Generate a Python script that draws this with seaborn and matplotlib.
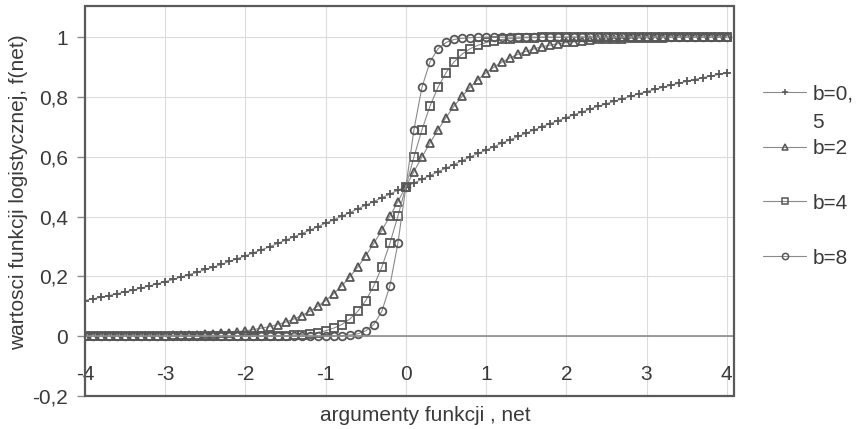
import matplotlib
matplotlib.use("Agg")
import matplotlib.pyplot as plt
import seaborn as sns
from matplotlib.patches import Rectangle
from matplotlib.ticker import FuncFormatter, MultipleLocator
from matplotlib.transforms import IdentityTransform

# argument values (net)
net = [
    -4.0, -3.9, -3.8, -3.7, -3.6, -3.5, -3.4, -3.3, -3.2, -3.1,
    -3.0, -2.9, -2.8, -2.7, -2.6, -2.5, -2.4, -2.3, -2.2, -2.1,
    -2.0, -1.9, -1.8, -1.7, -1.6, -1.5, -1.4, -1.3, -1.2, -1.1,
    -1.0, -0.9, -0.8, -0.7, -0.6, -0.5, -0.4, -0.3, -0.2, -0.1,
    0.0,
    0.1, 0.2, 0.3, 0.4, 0.5, 0.6, 0.7, 0.8, 0.9, 1.0,
    1.1, 1.2, 1.3, 1.4, 1.5, 1.6, 1.7, 1.8, 1.9, 2.0,
    2.1, 2.2, 2.3, 2.4, 2.5, 2.6, 2.7, 2.8, 2.9, 3.0,
    3.1, 3.2, 3.3, 3.4, 3.5, 3.6, 3.7, 3.8, 3.9, 4.0,
]

f_b05 = [
    0.119, 0.125, 0.130, 0.136, 0.142, 0.148, 0.154, 0.161, 0.168, 0.175,
    0.182, 0.190, 0.198, 0.206, 0.214, 0.223, 0.231, 0.240, 0.250, 0.259,
    0.269, 0.279, 0.289, 0.299, 0.310, 0.321, 0.332, 0.343, 0.354, 0.366,
    0.378, 0.389, 0.401, 0.413, 0.426, 0.438, 0.450, 0.463, 0.475, 0.488,
    0.500,
    0.512, 0.525, 0.537, 0.550, 0.562, 0.574, 0.587, 0.599, 0.611, 0.622,
    0.634, 0.646, 0.657, 0.668, 0.679, 0.690, 0.701, 0.711, 0.721, 0.731,
    0.741, 0.750, 0.760, 0.769, 0.777, 0.786, 0.794, 0.802, 0.810, 0.818,
    0.825, 0.832, 0.839, 0.846, 0.852, 0.858, 0.864, 0.870, 0.875, 0.881,
]

f_b2 = [
    0.000, 0.000, 0.001, 0.001, 0.001, 0.001, 0.001, 0.001, 0.002, 0.002,
    0.002, 0.003, 0.004, 0.004, 0.005, 0.007, 0.008, 0.010, 0.012, 0.015,
    0.018, 0.022, 0.027, 0.032, 0.039, 0.047, 0.057, 0.069, 0.083, 0.100,
    0.119, 0.142, 0.168, 0.198, 0.231, 0.269, 0.310, 0.354, 0.401, 0.450,
    0.500,
    0.550, 0.599, 0.646, 0.690, 0.731, 0.769, 0.802, 0.832, 0.858, 0.881,
    0.900, 0.917, 0.931, 0.943, 0.953, 0.961, 0.968, 0.973, 0.978, 0.982,
    0.985, 0.988, 0.990, 0.992, 0.993, 0.995, 0.995, 0.996, 0.997, 0.998,
    0.998, 0.998, 0.999, 0.999, 0.999, 0.999, 0.999, 1.000, 1.000, 1.000,
]

f_b4 = [
    0.000, 0.000, 0.000, 0.000, 0.000, 0.000, 0.000, 0.000, 0.000, 0.000,
    0.000, 0.000, 0.000, 0.000, 0.000, 0.000, 0.000, 0.000, 0.000, 0.000,
    0.000, 0.001, 0.001, 0.001, 0.002, 0.002, 0.004, 0.005, 0.008, 0.012,
    0.018, 0.027, 0.039, 0.057, 0.083, 0.119, 0.168, 0.231, 0.310, 0.401,
    0.500,
    0.599, 0.690, 0.769, 0.832, 0.881, 0.917, 0.943, 0.961, 0.973, 0.982,
    0.988, 0.992, 0.995, 0.996, 0.998, 0.998, 0.999, 0.999, 0.999, 1.000,
    1.000, 1.000, 1.000, 1.000, 1.000, 1.000, 1.000, 1.000, 1.000, 1.000,
    1.000, 1.000, 1.000, 1.000, 1.000, 1.000, 1.000, 1.000, 1.000, 1.000,
]

f_b8 = [
    0.000, 0.000, 0.000, 0.000, 0.000, 0.000, 0.000, 0.000, 0.000, 0.000,
    0.000, 0.000, 0.000, 0.000, 0.000, 0.000, 0.000, 0.000, 0.000, 0.000,
    0.000, 0.000, 0.000, 0.000, 0.000, 0.000, 0.000, 0.000, 0.000, 0.000,
    0.000, 0.001, 0.002, 0.004, 0.008, 0.018, 0.039, 0.083, 0.168, 0.310,
    0.500,
    0.690, 0.832, 0.917, 0.961, 0.982, 0.992, 0.996, 0.998, 0.999, 1.000,
    1.000, 1.000, 1.000, 1.000, 1.000, 1.000, 1.000, 1.000, 1.000, 1.000,
    1.000, 1.000, 1.000, 1.000, 1.000, 1.000, 1.000, 1.000, 1.000, 1.000,
    1.000, 1.000, 1.000, 1.000, 1.000, 1.000, 1.000, 1.000, 1.000, 1.000,
]

series = [f_b05, f_b2, f_b4, f_b8]
# the first label wraps in the original legend: "b=0," / "5"
labels = ["b=0,", "b=2", "b=4", "b=8"]
label_wrap = "5"
markers = ["+", "^", "s", "o"]

TEXT = "#3a3a3a"
MARK = "#575757"
LINE = "#8a8a8a"


def comma_fmt(v, pos):
    s = f"{v:.1f}".rstrip("0").rstrip(".")
    if s == "-0":
        s = "0"
    return s.replace(".", ",")


def main():
    sns.set_style("white")
    plt.rcParams["font.family"] = ["Liberation Sans", "DejaVu Sans"]
    plt.rcParams["text.color"] = TEXT

    fig = plt.figure(figsize=(8.57, 4.29), dpi=100)
    ax = fig.add_axes([85 / 857, 33 / 429, 649 / 857, 390 / 429])

    for vals, lab, m in zip(series, labels, markers):
        sns.lineplot(
            x=net, y=vals, ax=ax, errorbar=None, label=lab,
            color=LINE, lw=0.8, marker=m,
            markersize=5.5,
            markeredgecolor=MARK, markerfacecolor="none",
            markeredgewidth=1.3,
        )

    ax.set_xlim(-4, 4.09)
    ax.set_ylim(-0.2, 1.104)
    ax.xaxis.set_major_locator(MultipleLocator(1))
    ax.yaxis.set_major_locator(MultipleLocator(0.2))
    ax.yaxis.set_major_formatter(FuncFormatter(comma_fmt))
    ax.xaxis.set_major_formatter(FuncFormatter(comma_fmt))
    ax.grid(True, color="#dcdcdc", lw=0.8)
    ax.set_axisbelow(True)

    for side in ["top", "right", "left"]:
        ax.spines[side].set_visible(False)
    ax.spines["bottom"].set_position(("data", 0))
    ax.spines["bottom"].set_color("#8c8c8c")
    ax.spines["bottom"].set_linewidth(1.2)
    ax.add_patch(Rectangle((0, 0), 1, 1, transform=ax.transAxes, fill=False,
                           ec="#5a5a5a", lw=1.6, clip_on=False, zorder=5))

    ax.tick_params(axis="x", direction="out", length=5, width=1, color="#8c8c8c",
                   labelsize=15, labelcolor=TEXT, pad=16)
    ax.tick_params(axis="y", direction="out", length=6, width=1, color="#8c8c8c",
                   labelsize=15, labelcolor=TEXT, pad=6, left=True)

    ax.set_xlabel("argumenty funkcji , net", fontsize=15, color=TEXT)
    ax.xaxis.set_label_coords(0.524, -0.026)
    ax.set_ylabel("wartosci funkcji logistycznej, f(net)", fontsize=15, color=TEXT)
    ax.yaxis.set_label_coords(-0.088, 0.523)

    handles, labs = ax.get_legend_handles_labels()
    leg = fig.legend(handles, labs, loc="upper left",
                     bbox_to_anchor=(763 / 857, 1 - 84 / 429),
                     frameon=False, fontsize=15, handlelength=2.07,
                     handletextpad=0.3, labelspacing=1.72,
                     borderpad=0, borderaxespad=0)
    for h in leg.legend_handles:
        h.set_markersize(4.5)
        h.set_markeredgewidth(1.1)
    if ax.get_legend() is not None:
        ax.get_legend().remove()

    # wrapped remainder of the first legend label, one line below it
    fig.canvas.draw()
    bb = leg.texts[0].get_window_extent()
    fig.text(bb.x0, (bb.y0 + bb.y1) / 2 - 29, label_wrap, fontsize=15,
             color=TEXT, ha="left", va="center", transform=IdentityTransform())

    fig.savefig("out.png", dpi=100)


if __name__ == "__main__":
    main()
